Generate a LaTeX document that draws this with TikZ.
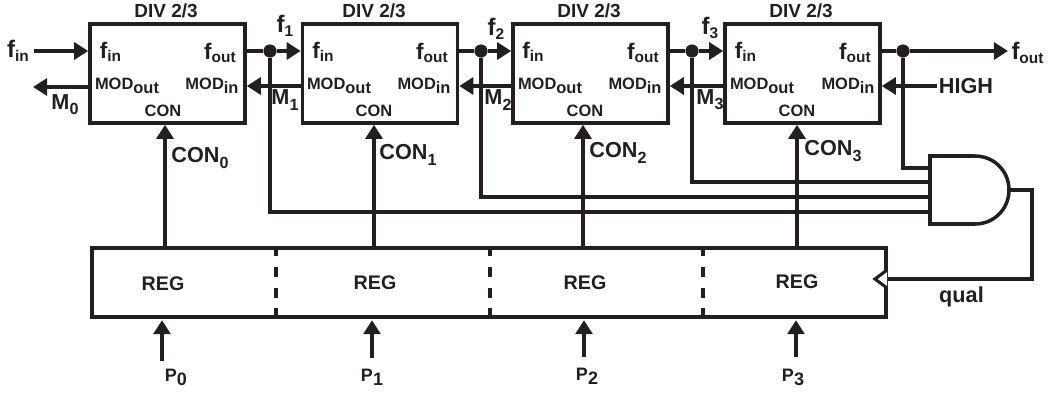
\documentclass[tikz,border=0pt]{standalone}
\usepackage{fontspec}
\setsansfont{Liberation Sans}
\usetikzlibrary{arrows.meta,positioning}
\definecolor{inkcolor}{HTML}{231F20}
\newcommand{\lowtxt}[1]{\raisebox{-0.45ex}{#1}}
\newcommand{\fsig}[2]{{\fontsize{#1}{16}\selectfont f}\lowtxt{\fontsize{11}{12}\selectfont #2}}
\newcommand{\bigsub}[2]{#1\lowtxt{\fontsize{11.5}{12}\selectfont #2}}
\tikzset{
  base/.style={inner sep=0pt, font=\sffamily\bfseries, text=inkcolor},
  divbox/.style={draw=inkcolor, line width=2.5pt, minimum width=3.875cm, minimum height=2.475cm},
  regbox/.style={draw=inkcolor, line width=2.5pt, minimum width=19.85cm, minimum height=1.725cm},
  andgate/.style={draw=inkcolor, line width=2.5pt},
  dot/.style={circle, fill=inkcolor, inner sep=0pt, minimum size=0.33cm},
  titletext/.style={base, font=\sffamily\bfseries\fontsize{13.5}{14}\selectfont},
  modtext/.style={base, font=\sffamily\bfseries\fontsize{11.7}{12}\selectfont},
  sigtext/.style={base, font=\sffamily\bfseries\fontsize{15.4}{16}\selectfont},
  regtext/.style={base, font=\sffamily\bfseries\fontsize{14}{14}\selectfont},
  ptext/.style={base, font=\sffamily\bfseries\fontsize{12.8}{13}\selectfont},
  wire/.style={draw=inkcolor, line width=2.6pt},
  edge/.style={wire, -{Triangle[length=10pt,width=12pt]}},
  regdash/.style={wire, dash pattern=on 7.1pt off 7.6pt},
  clockmark/.style={draw=inkcolor, line width=2.2pt},
}
\begin{document}
\begin{tikzpicture}[x=0.025cm,y=-0.025cm]
  \useasboundingbox (0,0) rectangle (1048,396);

  \node[divbox] (div0) at (167.5,73.5) {};
  \node[divbox] (div1) at (380,73.5) {};
  \node[divbox] (div2) at (590.5,73.5) {};
  \node[divbox] (div3) at (802.5,73.5) {};
  \node[regbox] (reg) at (489,282.5) {};

  \coordinate (gateout) at (1009,190);
  \draw[andgate] (930,156) -- (975,156) .. controls (994,156) and (1009,171) .. (gateout)
    .. controls (1009,209) and (994,224) .. (975,224) -- (930,224) -- cycle;

  \node[titletext] (title0) at (166,10.5) {DIV 2/3};
  \node[titletext] (title1) at (374,10.5) {DIV 2/3};
  \node[titletext] (title2) at (589,10.5) {DIV 2/3};
  \node[titletext] (title3) at (801,10.5) {DIV 2/3};

  \node[base] (fin0) at (110.5,52) {\fsig{16}{in}};
  \node[base] (fout0) at (220,53) {\fsig{16}{out}};
  \node[modtext] (modout0) at (127,86) {MOD\lowtxt{out}};
  \node[modtext] (modin0) at (212,86) {MOD\lowtxt{in}};
  \node[modtext] (con0) at (163,111) {CON};

  \node[base] (fin1) at (323,52) {\fsig{16}{in}};
  \node[base] (fout1) at (432,53) {\fsig{16}{out}};
  \node[modtext] (modout1) at (339,86) {MOD\lowtxt{out}};
  \node[modtext] (modin1) at (424,86) {MOD\lowtxt{in}};
  \node[modtext] (con1) at (374,111) {CON};

  \node[base] (fin2) at (533,52) {\fsig{16}{in}};
  \node[base] (fout2) at (643,53) {\fsig{16}{out}};
  \node[modtext] (modout2) at (550,86) {MOD\lowtxt{out}};
  \node[modtext] (modin2) at (635,86) {MOD\lowtxt{in}};
  \node[modtext] (con2) at (585,111) {CON};

  \node[base] (fin3) at (745.5,52) {\fsig{16}{in}};
  \node[base] (fout3) at (855,53) {\fsig{16}{out}};
  \node[modtext] (modout3) at (762,86) {MOD\lowtxt{out}};
  \node[modtext] (modin3) at (848,86) {MOD\lowtxt{in}};
  \node[modtext] (con3) at (797,110.5) {CON};

  \node[dot] (node1) at (270,51) {};
  \node[dot] (node2) at (481,51) {};
  \node[dot] (node3) at (692,51) {};
  \node[dot] (node4) at (903,51) {};

  \coordinate (finstart) at (34,51);
  \coordinate (foutend) at (1008,51);
  \coordinate (m0end) at (33,87);
  \coordinate (modrow) at (0,86);
  \coordinate (highstart) at (937,86);
  \coordinate (q1) at (930,168);
  \coordinate (q2) at (930,182);
  \coordinate (q3) at (930,197);
  \coordinate (q4) at (930,212);
  \coordinate (qualcorner) at (1032,190);
  \coordinate (clk) at (887,279);
  \coordinate (clktop) at (887,270);
  \coordinate (clktip) at (875,279);
  \coordinate (clkbot) at (887,288);
  \coordinate (dash1) at (276,282);
  \coordinate (dash2) at (490,282);
  \coordinate (dash3) at (703,282);

  \draw[edge] (finstart) -- (div0.west |- finstart);
  \draw[wire] (div0.east |- node1) -- (node1);
  \draw[edge] (node1) -- (div1.west |- node1);
  \draw[wire] (div1.east |- node2) -- (node2);
  \draw[edge] (node2) -- (div2.west |- node2);
  \draw[wire] (div2.east |- node3) -- (node3);
  \draw[edge] (node3) -- (div3.west |- node3);
  \draw[wire] (div3.east |- node4) -- (node4);
  \draw[edge] (node4) -- (foutend);

  \draw[edge] (div0.west |- m0end) -- (m0end);
  \draw[edge] (div1.west |- modrow) -- (div0.east |- modrow);
  \draw[edge] (div2.west |- modrow) -- (div1.east |- modrow);
  \draw[edge] (div3.west |- modrow) -- (div2.east |- modrow);
  \draw[edge] (highstart) -- (div3.east |- highstart);

  \draw[wire] (node4) |- (q1);
  \draw[wire] (node3) |- (q2);
  \draw[wire] (node2) |- (q3);
  \draw[wire] (node1) |- (q4);
  \draw[wire] (gateout) -- (qualcorner) |- (clk);
  \draw[clockmark, fill=white] (clktop) -- (clktip) -- (clkbot);

  \draw[regdash] (reg.north -| dash1) -- (reg.south -| dash1);
  \draw[regdash] (reg.north -| dash2) -- (reg.south -| dash2);
  \draw[regdash] (reg.north -| dash3) -- (reg.south -| dash3);

  \node[regtext] (reg0) at (163,284) {REG};
  \node[regtext] (reg1) at (375,283) {REG};
  \node[regtext] (reg2) at (585,283) {REG};
  \node[regtext] (reg3) at (797,282) {REG};

  \node[base] (flabel0) at (18,51) {\fsig{17}{in}};
  \node[base] (flabel1) at (285,26) {\fsig{17}{1}};
  \node[base] (flabel2) at (496,29) {\fsig{17}{2}};
  \node[base] (flabel3) at (710,28) {\fsig{17}{3}};
  \node[base] (flabel4) at (1027.5,53) {\fsig{17}{out}};
  \node[sigtext] (mlabel0) at (65,105) {\bigsub{M}{0}};
  \node[sigtext] (mlabel1) at (285,100) {\bigsub{M}{1}};
  \node[sigtext] (mlabel2) at (498,100) {\bigsub{M}{2}};
  \node[sigtext] (mlabel3) at (710,100) {\bigsub{M}{3}};
  \node[sigtext] (high) at (966,86) {HIGH};
  \node[sigtext] (qual) at (961.5,297) {qual};

  \node[sigtext] (conlabel0) at (200,158) {\bigsub{CON}{0}};
  \node[sigtext] (conlabel1) at (408,155) {\bigsub{CON}{1}};
  \node[sigtext] (conlabel2) at (618,153) {\bigsub{CON}{2}};
  \node[sigtext] (conlabel3) at (833,151) {\bigsub{CON}{3}};

  \coordinate (conx0) at (165,190);
  \coordinate (conx1) at (374,190);
  \coordinate (conx2) at (583,190);
  \coordinate (conx3) at (797,190);
  \draw[edge] (reg.north -| conx0) -- (div0.south -| conx0);
  \draw[edge] (reg.north -| conx1) -- (div1.south -| conx1);
  \draw[edge] (reg.north -| conx2) -- (div2.south -| conx2);
  \draw[edge] (reg.north -| conx3) -- (div3.south -| conx3);

  \node[ptext] (p0) at (176,377.5) {P\lowtxt{0}};
  \node[ptext] (p1) at (372,377) {P\lowtxt{1}};
  \node[ptext] (p2) at (587,376.5) {P\lowtxt{2}};
  \node[ptext] (p3) at (793,377.5) {P\lowtxt{3}};

  \coordinate (pstart0) at (162,361);
  \coordinate (pstart1) at (372,358);
  \coordinate (pstart2) at (584,357);
  \coordinate (pstart3) at (796,357);
  \draw[edge] (pstart0) -- ([yshift=-1pt]reg.south -| pstart0);
  \draw[edge] (pstart1) -- ([yshift=-1pt]reg.south -| pstart1);
  \draw[edge] (pstart2) -- ([yshift=-1pt]reg.south -| pstart2);
  \draw[edge] (pstart3) -- ([yshift=-1pt]reg.south -| pstart3);
\end{tikzpicture}
\end{document}
